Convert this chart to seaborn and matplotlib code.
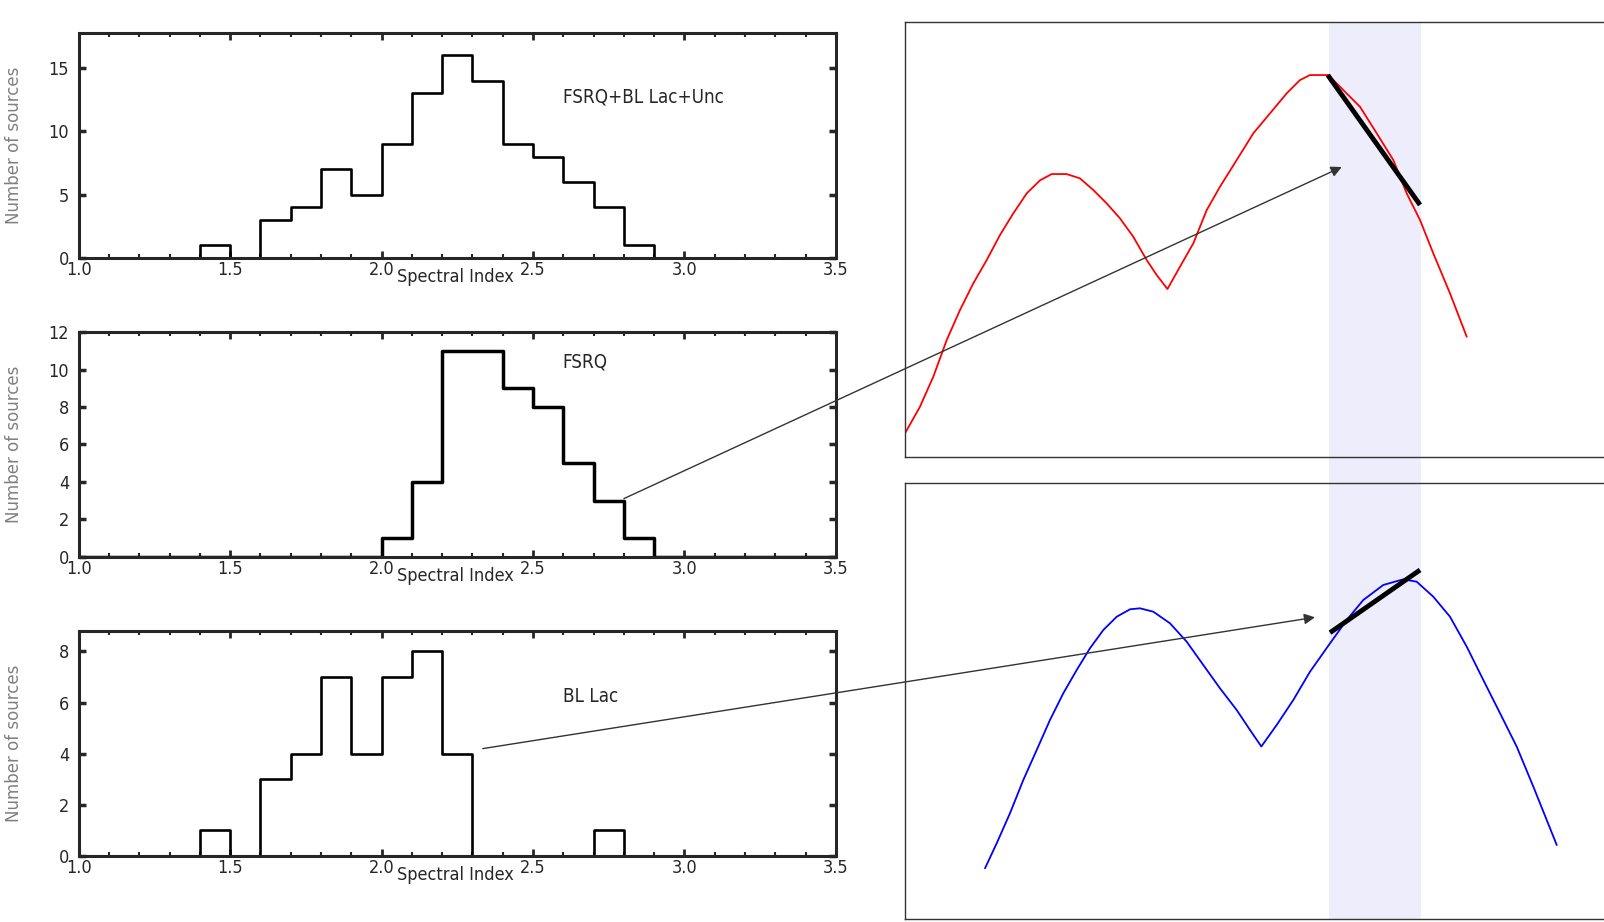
import numpy as np
import pandas as pd
import seaborn as sns
import matplotlib.pyplot as plt
import matplotlib.transforms as mtrans
from matplotlib.patches import ConnectionPatch, Rectangle
from matplotlib.ticker import MultipleLocator

# histogram bins (spectral index) and counts per 0.1 bin
bin_edges = np.round(np.arange(1.0, 3.5001, 0.1), 2)
bin_centers = bin_edges[:-1] + 0.05
all_counts = [0, 0, 0, 0, 1, 0, 3, 4, 7, 5, 9, 13, 16, 14, 9, 8, 6, 4, 1, 0, 0, 0, 0, 0, 0]
fsrq_counts = [0, 0, 0, 0, 0, 0, 0, 0, 0, 0, 1, 4, 11, 11, 9, 8, 5, 3, 1, 0, 0, 0, 0, 0, 0]
bllac_counts = [0, 0, 0, 0, 1, 0, 3, 4, 7, 4, 7, 8, 4, 0, 0, 0, 0, 1, 0, 0, 0, 0, 0, 0, 0]
hist_titles = ["FSRQ+BL Lac+Unc", "FSRQ", "BL Lac"]
hist_ymax = [17.8, 12, 8.8]
hist_yticks = [[0, 5, 10, 15], [0, 2, 4, 6, 8, 10, 12], [0, 2, 4, 6, 8]]
title_y = [12.7, 10.4, 6.25]

# sketch curves (arbitrary log-nu / log-nuFnu units)
red_x = [0.000, 0.201, 0.380, 0.560, 0.738, 0.917, 1.097, 1.275, 1.454, 1.634, 1.812,
         1.969, 2.170, 2.349, 2.528, 2.707, 2.886, 3.064, 3.244, 3.379, 3.523, 3.691,
         3.870, 4.050, 4.228, 4.452, 4.675, 4.899, 5.123, 5.302, 5.436, 5.682, 5.883,
         6.107, 6.332, 6.554, 6.734, 6.913, 7.091, 7.315, 7.540]
red_y = [0.544, 1.155, 1.844, 2.687, 3.375, 3.989, 4.524, 5.098, 5.596, 6.055, 6.354,
         6.498, 6.498, 6.399, 6.131, 5.825, 5.481, 5.059, 4.524, 4.179, 3.858, 4.370,
         4.907, 5.672, 6.207, 6.820, 7.433, 7.892, 8.351, 8.657, 8.772, 8.772, 8.427,
         8.044, 7.433, 6.820, 6.055, 5.442, 4.677, 3.759, 2.762]
blue_x = [1.074, 1.231, 1.409, 1.588, 1.768, 1.946, 2.125, 2.305, 2.483, 2.662, 2.842,
          3.020, 3.154, 3.333, 3.557, 3.781, 4.004, 4.228, 4.452, 4.631, 4.783, 4.989,
          5.212, 5.436, 5.705, 5.929, 6.152, 6.420, 6.689, 6.868, 7.091, 7.315, 7.540,
          7.762, 7.987, 8.211, 8.434, 8.748]
blue_y = [1.163, 1.736, 2.424, 3.188, 3.876, 4.564, 5.177, 5.711, 6.209, 6.628, 6.933,
          7.103, 7.126, 7.048, 6.782, 6.360, 5.826, 5.291, 4.794, 4.335, 3.956, 4.450,
          5.023, 5.672, 6.323, 6.858, 7.317, 7.661, 7.791, 7.736, 7.392, 6.933, 6.245,
          5.482, 4.718, 3.952, 3.034, 1.697]
red_tangent_x = [5.675, 6.913]
red_tangent_y = [8.77, 5.79]
blue_tangent_x = [5.705, 6.913]
blue_tangent_y = [6.567, 8.005]
band = (5.689, 6.926)

sns.set_theme(style="ticks")
plt.rcParams["font.family"] = ["DejaVu Sans"]
plt.rcParams["font.stretch"] = "condensed"

fig = plt.figure(figsize=(16.04, 9.22), dpi=100)
fig.patch.set_facecolor("white")

hist_pos = [[0.0491, 0.7204, 0.472, 0.2441],
            [0.0491, 0.3964, 0.472, 0.2430],
            [0.0491, 0.0716, 0.472, 0.2440]]
hist_lw = [1.9, 2.5, 1.9]
hist_axes = []
for i, counts in enumerate([all_counts, fsrq_counts, bllac_counts]):
    ax = fig.add_axes(hist_pos[i])
    df = pd.DataFrame({"index": bin_centers, "n": counts})
    sns.histplot(data=df, x="index", weights="n", binwidth=0.1, binrange=(1.0, 3.5),
                 element="step", fill=False, color="black", linewidth=hist_lw[i], ax=ax)
    ax.set_xlim(1.0, 3.5)
    ax.set_ylim(0, hist_ymax[i])
    ax.set_yticks(hist_yticks[i])
    ax.xaxis.set_major_locator(MultipleLocator(0.5))
    ax.xaxis.set_minor_locator(MultipleLocator(0.1))
    ax.set_xticks(ax.get_xticks())
    ax.set_xticklabels([f"{v:.1f}" for v in ax.get_xticks()])
    ax.set_xlim(1.0, 3.5)
    for spine in ax.spines.values():
        spine.set_visible(True)
        spine.set_linewidth(2.2)
    ax.tick_params(axis="x", which="major", direction="in", top=True, bottom=True,
                   length=5, width=2, pad=2.5, labelsize=13)
    ax.tick_params(axis="x", which="minor", direction="in", top=True, bottom=True,
                   length=3, width=1.5)
    ax.tick_params(axis="y", which="major", direction="in", left=True, right=True,
                   length=5, width=2.5, pad=7, labelsize=13)
    ax.set_xlabel("Spectral Index", fontsize=13)
    ax.xaxis.set_label_coords(0.497, -0.045)
    ax.set_ylabel("Number of sources", fontsize=12, color="#808080",
                  family="DejaVu Sans", fontstretch="normal")
    ax.yaxis.set_label_coords(-0.073, 0.5)
    ax.text(2.598, title_y[i], hist_titles[i], fontsize=13.5, va="center", ha="left")
    hist_axes.append(ax)

# right-hand sketch panels
ax_r1 = fig.add_axes([0.5642, 0.5043, 0.4645, 0.4723])
ax_r2 = fig.add_axes([0.5642, 0.00325, 0.4645, 0.4729])
for ax in (ax_r1, ax_r2):
    ax.set_xlim(0, 10)
    ax.set_ylim(0, 10)
    ax.set_facecolor("none")
    ax.set_xticks([])
    ax.set_yticks([])
    for spine in ax.spines.values():
        spine.set_visible(True)
        spine.set_linewidth(1.0)
        spine.set_color("#333333")

sns.lineplot(x=red_x, y=red_y, color="#FF0000", linewidth=1.3, estimator=None,
             sort=False, ax=ax_r1)
sns.lineplot(x=blue_x, y=blue_y, color="#0000FF", linewidth=1.3, estimator=None,
             sort=False, ax=ax_r2)
ax_r1.plot(red_tangent_x, red_tangent_y, color="black", linewidth=3.5, solid_capstyle="butt")
ax_r2.plot(blue_tangent_x, blue_tangent_y, color="black", linewidth=3.5, solid_capstyle="butt")

# shaded frequency band running through both panels
blend = mtrans.blended_transform_factory(ax_r1.transData, fig.transFigure)
fig.patches.append(Rectangle((band[0], 0.00325), band[1] - band[0], 0.9766 - 0.00325,
                             transform=blend, facecolor="#EDEDFC", edgecolor="none",
                             zorder=-1))

# arrows from histogram tails to the sketches
arrow1 = ConnectionPatch(xyA=(2.80, 3.1), coordsA=hist_axes[1].transData,
                         xyB=(5.862, 6.66), coordsB=ax_r1.transData,
                         arrowstyle="-|>", color="#333333", linewidth=1.0,
                         mutation_scale=16, shrinkA=0, shrinkB=0)
arrow2 = ConnectionPatch(xyA=(2.334, 4.2), coordsA=hist_axes[2].transData,
                         xyB=(5.503, 6.92), coordsB=ax_r2.transData,
                         arrowstyle="-|>", color="#333333", linewidth=1.0,
                         mutation_scale=16, shrinkA=0, shrinkB=0)
for a in (arrow1, arrow2):
    a.set_zorder(10)
    fig.add_artist(a)

fig.savefig("out.png", dpi=100)
